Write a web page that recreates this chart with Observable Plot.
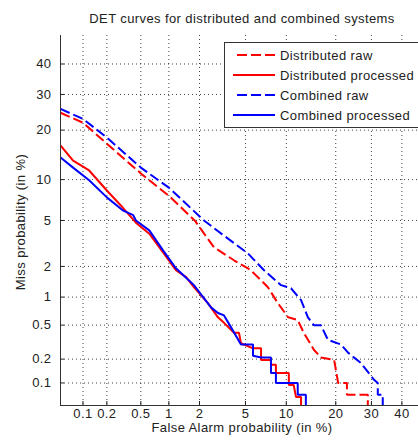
<!DOCTYPE html>
<html><head><meta charset="utf-8">
<script src="https://cdn.jsdelivr.net/npm/d3@7"></script>
<script src="https://cdn.jsdelivr.net/npm/@observablehq/plot@0.6"></script>
<style>html,body{margin:0;padding:0;background:#fff;overflow:hidden}</style>
</head><body><div id="chart"></div>
<script>
// ---- data (percent) ----
const titleText = "DET curves for distributed and combined systems";
const xLabel = "False Alarm probability (in %)";
const yLabel = "Miss probability (in %)";
const xTicks = [0.1, 0.2, 0.5, 1, 2, 5, 10, 20, 30, 40];
const yTicks = [0.1, 0.2, 0.5, 1, 2, 5, 10, 20, 30, 40];
const seriesNames = ["Distributed raw", "Distributed processed", "Combined raw", "Combined processed"];

const distRawFA   = [0.05,0.1,0.2,0.5,1,1.8,2.71,4.03,5.23,5.83,7.42,8.76,10.3,11.9,13.0,15.0,16.5,19.6,20.6,22.9,22.9,28.9,28.9];
const distRawMiss = [24.6,21.9,16.8,11.0,7.7,5.0,2.98,2.28,1.92,1.72,1.26,0.86,0.61,0.57,0.41,0.26,0.21,0.195,0.1,0.1,0.07,0.07,0.05];

const distProcFA   = [0.05,0.074,0.12,0.2,0.31,0.44,0.62,0.87,1.18,1.49,1.77,2.40,2.94,3.32,4.03,4.43,4.60,5.73,6.60,6.60,7.81,7.81,8.47,8.47,10.4,10.4,11.2,11.6,12.5,12.5];
const distProcMiss = [16.4,13.3,11.5,8.4,6.3,4.8,3.9,2.69,1.84,1.58,1.26,0.86,0.61,0.53,0.41,0.41,0.31,0.27,0.27,0.195,0.195,0.17,0.17,0.134,0.134,0.094,0.094,0.065,0.065,0.05];

const combRawFA   = [0.05,0.1,0.2,0.5,1,2.2,3.12,5.23,6.95,9.2,10.75,12.5,13.8,15.0,16.5,18.1,21.3,23.2,24.8,26.8,30.8,32.0,32.0,33.6,33.6];
const combRawMiss = [25.7,22.9,18.2,12.0,8.8,5.0,3.92,2.63,1.84,1.32,1.23,0.93,0.61,0.5,0.5,0.34,0.30,0.24,0.21,0.18,0.11,0.1,0.07,0.07,0.05];

const combProcFA   = [0.05,0.074,0.12,0.2,0.31,0.41,0.44,0.62,0.87,1.18,1.59,1.77,2.55,2.94,3.32,3.80,4.60,5.73,5.73,6.60,7.81,7.81,8.47,8.47,11.9,11.9,13.4,13.4];
const combProcMiss = [13.9,12.0,9.9,7.5,6.0,5.5,5.0,4.15,2.8,1.92,1.47,1.32,0.78,0.68,0.64,0.475,0.30,0.30,0.22,0.21,0.21,0.134,0.134,0.1,0.1,0.07,0.07,0.05];

const seriesColors = ["#ff0000", "#ff0000", "#0000ff", "#0000ff"];
const seriesDash = ["10,4", null, "10,4", null];

// ---- probit (inverse normal CDF, Acklam) ----
function probit(p) {
  const a=[-3.969683028665376e+01,2.209460984245205e+02,-2.759285104469687e+02,1.383577518672690e+02,-3.066479806614716e+01,2.506628277459239e+00];
  const b=[-5.447609879822406e+01,1.615858368580409e+02,-1.556989798598866e+02,6.680131188771972e+01,-1.328068155288572e+01];
  const c=[-7.784894002430293e-03,-3.223964580411365e-01,-2.400758277161838e+00,-2.549671010352346e+00,4.374664141464968e+00,2.938163982698783e+00];
  const d=[7.784695709041462e-03,3.224671290700398e-01,2.445134137142996e+00,3.754408661907416e+00];
  const pl = 0.02425, ph = 1 - pl;
  let q, r;
  if (p < pl) { q = Math.sqrt(-2*Math.log(p)); return (((((c[0]*q+c[1])*q+c[2])*q+c[3])*q+c[4])*q+c[5])/((((d[0]*q+d[1])*q+d[2])*q+d[3])*q+1); }
  if (p <= ph) { q = p - 0.5; r = q*q; return (((((a[0]*r+a[1])*r+a[2])*r+a[3])*r+a[4])*r+a[5])*q/(((((b[0]*r+b[1])*r+b[2])*r+b[3])*r+b[4])*r+1); }
  q = Math.sqrt(-2*Math.log(1-p)); return -(((((c[0]*q+c[1])*q+c[2])*q+c[3])*q+c[4])*q+c[5])/((((d[0]*q+d[1])*q+d[2])*q+d[3])*q+1);
}

const toRows = (fa, miss) => fa.map((f, i) => ({fa: f, miss: miss[i]}));
const series = [
  toRows(distRawFA, distRawMiss),
  toRows(distProcFA, distProcMiss),
  toRows(combRawFA, combRawMiss),
  toRows(combProcFA, combProcMiss)
];

const tx = xTicks.map(v => probit(v / 100));
const ty = yTicks.map(v => probit(v / 100));
const fmtX = new Map(tx.map((t, i) => [t, String(xTicks[i])]));
const fmtY = new Map(ty.map((t, i) => [t, String(yTicks[i])]));
const xMin = probit(0.0005), xMax = probit(0.458);
const yMin = probit(0.0005), yMax = probit(0.5);

const chart = Plot.plot({
  width: 418, height: 444,
  marginTop: 35, marginBottom: 39, marginLeft: 60, marginRight: 0,
  style: {fontFamily: "'Liberation Sans', Arial, sans-serif", fontSize: "13px", letterSpacing: "0.4px", color: "#222", background: "#fff"},
  x: {domain: [xMin, xMax]},
  y: {domain: [yMin, yMax]},
  marks: [
    Plot.gridX(tx, {stroke: "#000", strokeOpacity: 0.75, strokeDasharray: "1,3"}),
    Plot.gridY(ty, {stroke: "#000", strokeOpacity: 0.75, strokeDasharray: "1,3"}),
    ...series.map((rows, i) => Plot.line(rows, {
      x: d => probit(d.fa / 100), y: d => probit(d.miss / 100),
      stroke: seriesColors[i], strokeWidth: 2, strokeDasharray: seriesDash[i] ?? undefined,
      strokeLinejoin: "miter", strokeLinecap: "butt", clip: true
    })),
    Plot.ruleX([xMin], {stroke: "#333"}),
    Plot.ruleY([yMin], {stroke: "#333"}),
    Plot.axisX(tx, {tickSize: -4, tickPadding: 7, tickFormat: d => fmtX.get(d), label: null, stroke: "#222"}),
    Plot.axisY(ty, {tickSize: -4, tickPadding: 13, tickFormat: d => fmtY.get(d), label: null, stroke: "#222"})
  ]
});
document.getElementById("chart").appendChild(chart);

const svg = d3.select(chart);
svg.append("text").attr("x", 242).attr("y", 23).attr("text-anchor", "middle").attr("fill", "#222").text(titleText);
svg.append("text").attr("x", 242).attr("y", 432).attr("text-anchor", "middle").attr("fill", "#222").text(xLabel);
svg.append("text").attr("transform", "translate(25,222) rotate(-90)").attr("text-anchor", "middle").attr("fill", "#222").text(yLabel);

// legend
const lg = svg.append("g").attr("text-anchor", "start");
lg.append("rect").attr("x", 224.5).attr("y", 42.5).attr("width", 210).attr("height", 85).attr("fill", "#fff").attr("stroke", "#333");
seriesNames.forEach((name, i) => {
  const yy = 55 + i * 20;
  lg.append("line").attr("x1", seriesDash[i] ? 237 : 233).attr("x2", 275).attr("y1", yy).attr("y2", yy)
    .attr("stroke", seriesColors[i]).attr("stroke-width", 2).attr("stroke-dasharray", seriesDash[i]);
  lg.append("text").attr("x", 280).attr("y", yy + 5).attr("text-anchor", "start").attr("fill", "#222").text(name);
});
</script></body></html>
